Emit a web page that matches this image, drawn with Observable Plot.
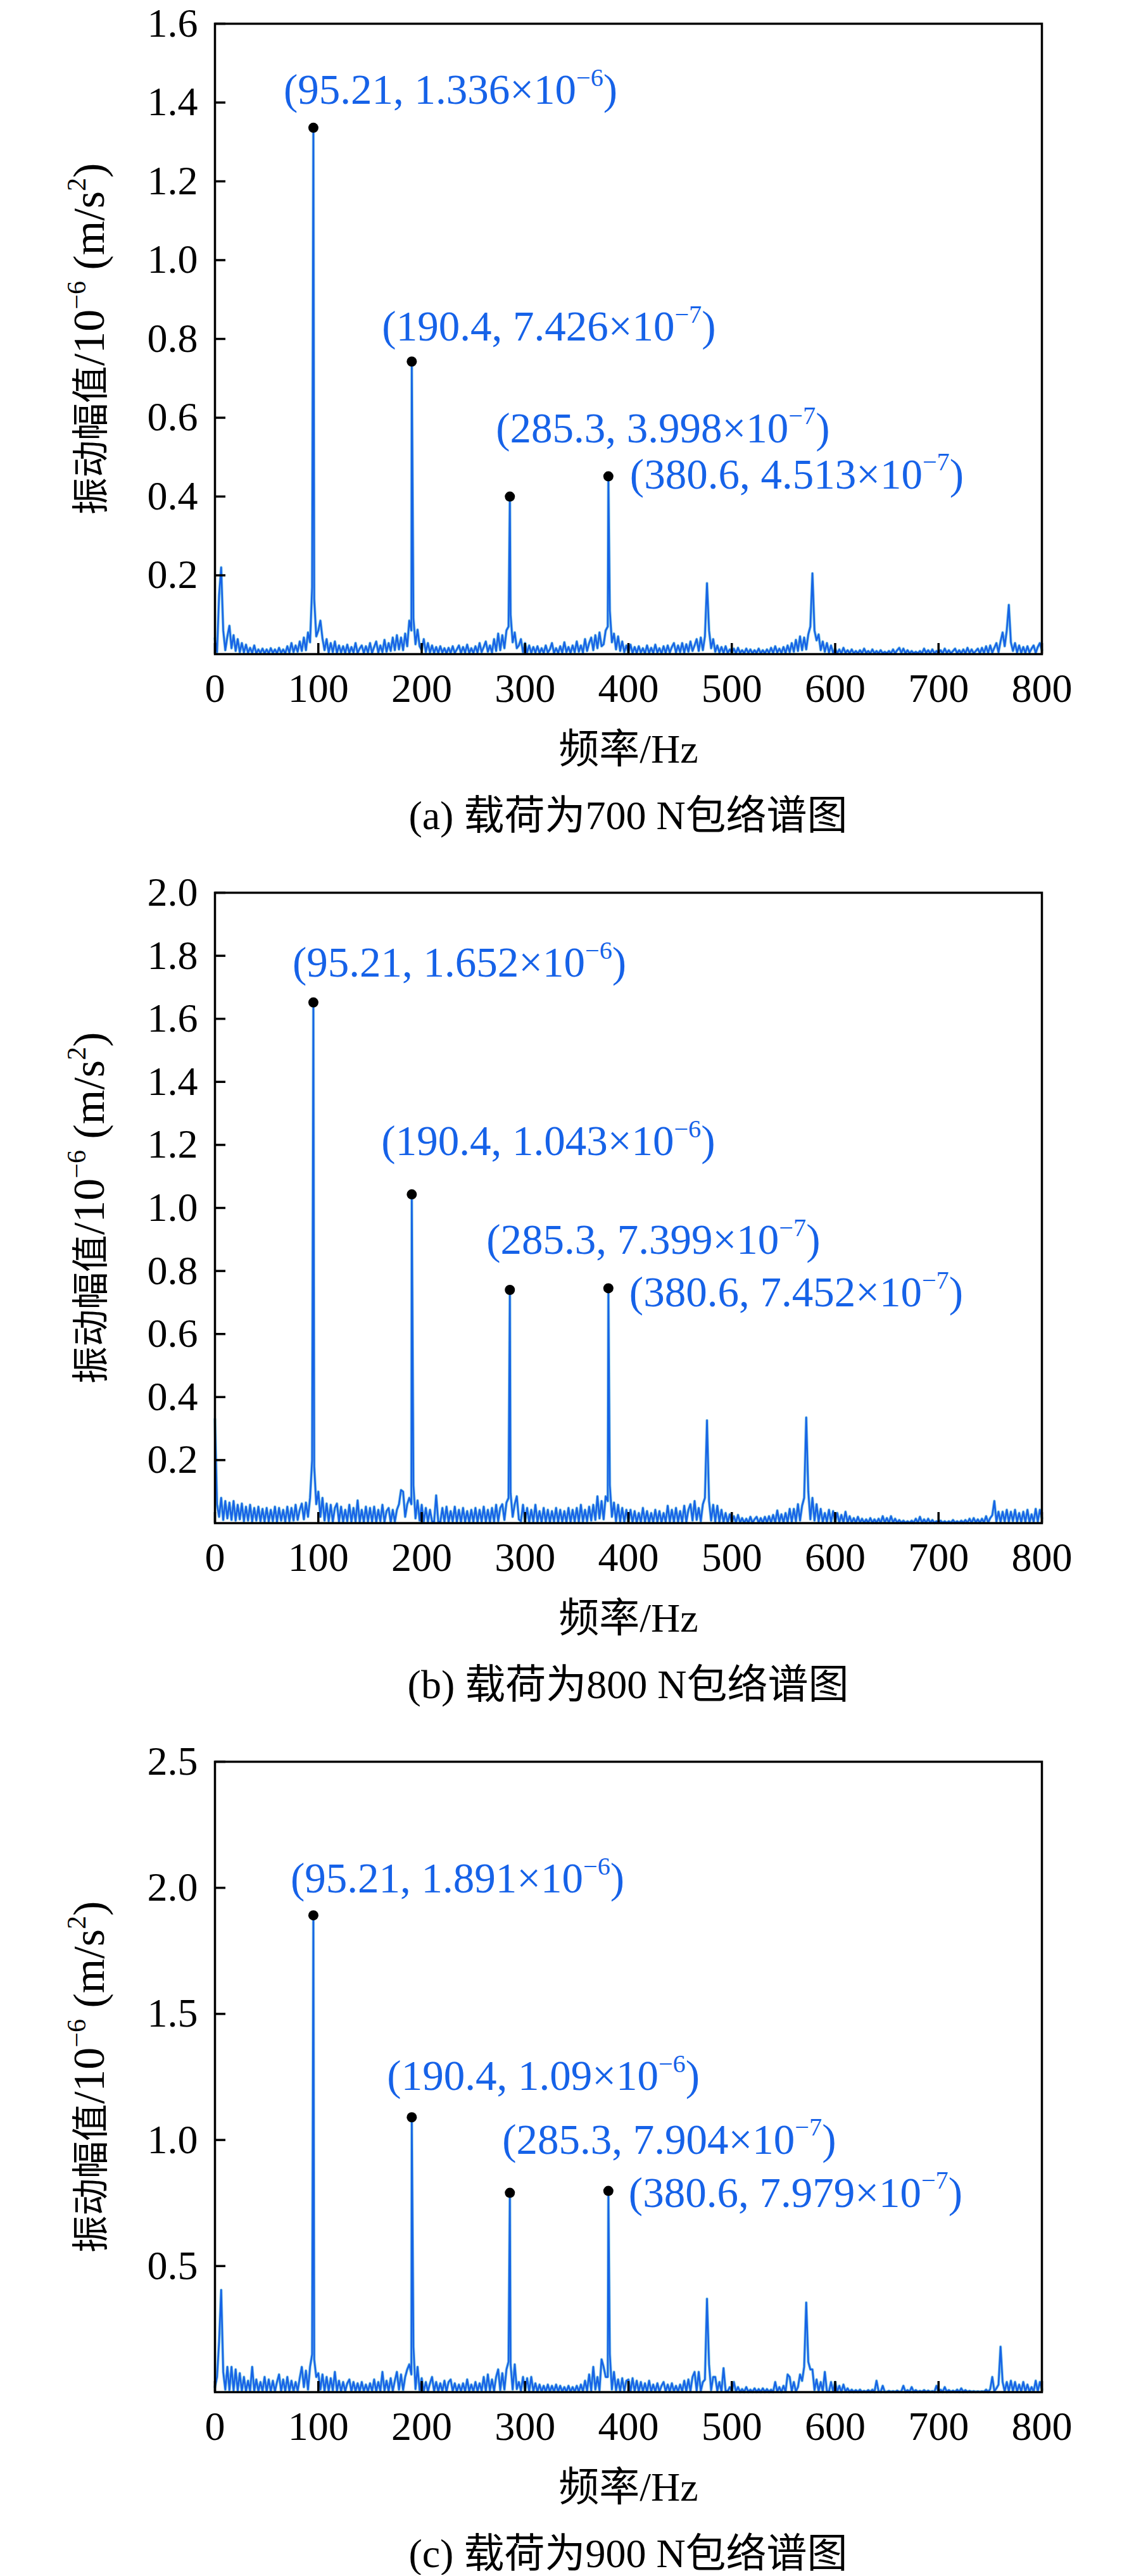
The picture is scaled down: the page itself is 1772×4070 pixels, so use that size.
<!DOCTYPE html>
<html><head><meta charset="utf-8">
<script src="https://cdn.jsdelivr.net/npm/d3@7"></script>
<script src="https://cdn.jsdelivr.net/npm/@observablehq/plot@0.6"></script>
<style>
body{margin:0;background:#fff;width:1772px;}
.block{width:1772px;height:1373px;}
.block:last-child{height:1322px;}
.cap{margin-left:339px;width:1306px;height:72px;line-height:78px;text-align:center;font-family:'Liberation Serif','Noto Sans CJK SC',serif;font-size:64px;color:#000;white-space:pre;}
svg{display:block;}
</style></head><body><div id="fig"></div><script>
// ---------------- data ----------------
const STEP = 2; // Hz between spectrum samples
const xTicks = [0, 100, 200, 300, 400, 500, 600, 700, 800];
const peakFreq = [95.21, 190.4, 285.3, 380.6];

// panel (a) 700 N — amplitudes in 1e-3 × 1e-6 m/s², sampled every 2 Hz from 0 to 800 Hz
const noiseA = [
40,5,150,220,60,10,45,72,15,48,8,38,5,28,4,24,3,16,3,22,2,12,3,14,2,
12,2,15,3,12,2,16,3,12,2,20,4,28,5,22,6,32,8,42,10,55,30,170,140,45,
60,85,40,10,38,4,28,5,32,3,22,4,20,3,24,3,18,4,28,3,14,22,3,20,4,
28,3,18,32,4,22,5,36,6,28,8,42,10,48,12,42,10,52,20,85,60,90,25,62,20,
10,38,5,28,4,22,3,18,3,20,4,15,2,16,3,20,3,12,22,3,18,4,24,3,15,
3,20,4,28,5,18,32,6,22,4,38,8,52,10,48,15,60,70,100,30,55,15,22,38,5,
28,4,22,3,18,4,20,3,15,3,22,4,12,28,3,15,3,20,4,30,5,18,3,22,5,
32,6,22,4,38,8,28,42,10,48,15,55,20,25,60,70,110,30,52,12,45,8,32,5,22,
4,24,3,18,3,20,4,15,2,22,3,16,3,24,4,15,2,20,3,22,4,18,28,4,22,
5,28,4,25,6,32,8,22,38,8,42,10,45,180,60,15,38,6,22,4,18,3,20,3,12,
3,14,2,16,3,10,2,14,3,12,2,10,3,14,2,10,2,12,3,16,3,20,4,14,3,
18,3,22,5,28,6,36,8,45,10,42,12,50,70,205,60,35,50,10,32,6,28,4,22,3,
14,2,12,2,16,3,10,2,12,2,8,2,10,2,14,3,8,2,12,2,8,2,10,2,6,
2,8,2,12,2,10,16,3,14,2,10,2,8,2,6,2,8,2,14,3,10,2,12,2,8,
2,10,2,14,3,10,2,8,14,2,10,2,12,2,16,3,12,2,8,14,2,16,3,20,3,
22,4,16,28,5,32,55,20,60,125,30,8,28,4,22,3,18,3,20,4,14,22,3,18,28,
10];
const peakAmpA = [1.336, 0.7426, 0.3998, 0.4513];
const labelsA = ["(95.21, 1.336×10|−6|)", "(190.4, 7.426×10|−7|)", "(285.3, 3.998×10|−7|)", "(380.6, 4.513×10|−7|)"];
const yTicksA = [0.2, 0.4, 0.6, 0.8, 1.0, 1.2, 1.4, 1.6];

// panel (b) 800 N
const noiseB = [
330,60,20,80,10,70,15,65,10,70,8,58,12,62,6,52,8,58,5,48,8,52,6,45,5,
48,5,42,6,52,4,48,8,42,5,52,6,48,8,58,10,42,62,12,65,20,80,200,180,60,
100,20,80,8,62,6,58,5,48,62,5,52,4,42,6,58,4,48,5,72,4,42,3,52,5,
48,4,52,3,42,6,58,4,38,48,3,42,5,42,60,105,100,20,60,80,60,120,15,72,8,
58,5,48,4,42,6,4,88,5,3,48,4,52,3,38,5,52,4,42,3,48,4,38,3,42,
4,48,3,42,5,52,4,42,3,48,5,58,6,48,60,10,65,80,95,20,60,85,12,6,58,
4,48,3,42,5,58,4,38,3,48,4,42,3,38,5,48,3,42,4,38,3,48,4,42,5,
48,4,58,5,42,6,52,8,58,10,85,15,70,12,85,70,120,20,65,6,58,5,48,4,42,
4,42,3,38,2,32,3,48,4,38,2,32,3,42,4,38,2,32,4,55,5,42,3,48,4,
38,3,55,4,42,60,8,70,10,48,6,60,80,326,70,8,58,5,55,4,42,3,32,2,28,
2,22,2,26,2,16,1,14,1,20,1,12,20,1,16,1,20,2,22,2,26,2,40,4,28,
2,32,3,45,4,45,6,60,8,55,80,335,100,12,80,8,60,5,45,3,32,4,42,3,38,
3,32,2,26,2,36,2,22,2,16,1,20,2,14,1,12,1,16,1,12,1,14,1,22,2,
16,1,22,2,14,1,10,1,8,1,6,1,8,1,14,1,20,1,12,1,14,1,10,1,6,
1,8,1,6,1,6,1,10,1,6,1,8,1,10,1,14,1,16,2,12,1,14,2,22,2,
16,25,70,5,36,4,36,5,42,4,36,6,42,4,32,3,36,4,42,3,28,4,45,5,42,
15];
const peakAmpB = [1.652, 1.043, 0.7399, 0.7452];
const labelsB = ["(95.21, 1.652×10|−6|)", "(190.4, 1.043×10|−6|)", "(285.3, 7.399×10|−7|)", "(380.6, 7.452×10|−7|)"];
const yTicksB = [0.2, 0.4, 0.6, 0.8, 1.0, 1.2, 1.4, 1.6, 1.8, 2.0];

// panel (c) 900 N
const noiseC = [
20,60,200,405,80,10,100,8,100,6,90,5,75,4,60,3,45,5,100,4,50,3,40,4,60,
3,50,4,45,3,40,70,4,50,3,60,4,45,3,40,5,55,100,20,85,10,100,150,130,60,
75,10,70,5,60,4,55,6,80,5,45,3,40,4,35,50,3,40,4,35,3,40,4,30,3,
35,4,50,3,40,5,80,6,45,4,55,5,45,80,10,70,8,60,90,110,70,180,12,100,8,
55,4,40,3,35,60,4,40,3,35,4,45,3,40,50,4,35,3,30,4,35,3,50,4,30,
3,40,4,35,5,60,4,70,6,50,5,60,90,8,75,10,90,120,110,10,110,12,40,5,60,
4,55,3,60,4,35,2,30,2,25,2,30,2,25,2,30,2,25,2,20,2,25,2,20,2,
25,2,30,3,45,5,70,6,100,10,60,7,130,100,60,60,150,10,80,7,50,4,55,5,45,
50,3,55,4,45,2,40,3,35,2,45,3,30,2,35,2,25,40,3,30,2,35,3,25,2,
30,3,45,4,50,5,60,80,6,80,5,40,50,370,110,8,60,60,5,40,3,95,6,3,20,
2,40,2,20,1,12,1,20,1,10,1,15,1,12,1,15,1,12,1,10,1,40,2,20,1,
25,2,70,60,4,40,3,20,70,45,100,355,120,90,90,8,50,4,40,3,80,4,2,40,3,
40,2,25,1,30,2,15,1,10,1,8,1,10,1,5,1,8,1,10,1,45,3,1,25,1,
1,5,1,4,1,6,1,3,25,1,8,1,20,1,8,1,5,1,8,1,6,1,4,1,25,
1,10,1,20,1,8,1,6,1,10,1,15,1,8,1,5,1,4,1,3,1,3,1,10,1,
12,60,4,15,30,180,40,3,40,4,45,3,40,2,30,3,40,2,30,2,20,2,45,3,40,
10];
const peakAmpC = [1.891, 1.09, 0.7904, 0.7979];
const labelsC = ["(95.21, 1.891×10|−6|)", "(190.4, 1.09×10|−6|)", "(285.3, 7.904×10|−7|)", "(380.6, 7.979×10|−7|)"];
const yTicksC = [0.5, 1.0, 1.5, 2.0, 2.5];

const xLabel = "频率/Hz";
const yLabel = "振动幅值/10|−6| (m/s|2|)";
const captions = ["(a) 载荷为700 N包络谱图", "(b) 载荷为800 N包络谱图", "(c) 载荷为900 N包络谱图"];

// ---------------- styles ----------------
const FONT = "'Liberation Serif','Noto Sans CJK SC',serif";
const BLUE_LINE = "#1763e6", CYAN_LINE = "#8fd0e6", BLUE_TEXT = "#1662e8";
// label offsets from the peak dot: [dx, dy of baseline] in px
const offsA = [[-47,-38],[-47,-33],[-22,-86],[34,19]];
const offsB = [[-33,-41],[-48,-62],[-37,-57],[33,29]];
const offsC = [[-36,-36],[-39,-43],[-12,-62],[32,25]];

function fontSizeOf(node) {
  let n = node;
  while (n && n.getAttribute) {
    const v = n.getAttribute("font-size");
    if (v) return parseFloat(v);
    n = n.parentNode;
  }
  return 64;
}

function richText(svg) {
  d3.select(svg).selectAll("text").each(function () {
    const s = this.textContent;
    if (!s.includes("|")) return;
    const fs = fontSizeOf(this);
    const cjkScale = /[\u4e00-\u9fff]/.test(s) ? 0.84 : 1;
    this.setAttributeNS("http://www.w3.org/XML/1998/namespace", "xml:space", "preserve");
    const el = d3.select(this);
    el.text(null);
    let raised = false;
    s.split("|").forEach((part, k) => {
      const sup = k % 2 === 1;
      const runs = part.match(/[\u4e00-\u9fff]+|[^\u4e00-\u9fff]+/g) || [];
      runs.forEach((r, j) => {
        const isC = /[\u4e00-\u9fff]/.test(r);
        const t = el.append("tspan").text(r)
          .attr("font-size", sup ? fs * 0.6 : isC ? fs * cjkScale : fs);
        if (j === 0) {
          if (sup && !raised) { t.attr("dy", -fs * 0.42); raised = true; }
          else if (!sup && raised) { t.attr("dy", fs * 0.42); raised = false; }
        }
      });
    });
  });
}

function makePanel(noise, amps, labels, yMax, yTicks, offs) {
  const spec = noise.map((v, i) => ({f: i * STEP, a: v / 1000}));
  const pk = peakFreq.map((f, i) => ({f, a: amps[i], label: labels[i]}));
  const line = spec.concat(pk.map(d => ({f: d.f, a: d.a}))).sort((p, q) => p.f - q.f);
  const textMarks = pk.map((d, i) => Plot.text([d], {
    x: "f", y: "a", text: "label", dx: offs[i][0], dy: offs[i][1],
    textAnchor: "start", lineAnchor: "bottom", fill: BLUE_TEXT, fontSize: 67
  }));
  const svg = Plot.plot({
    width: 1772, height: 1250,
    marginLeft: 339, marginRight: 127, marginTop: 37, marginBottom: 217,
    style: {fontFamily: FONT, background: "white", overflow: "visible", color: "black"},
    x: {domain: [0, 800]},
    y: {domain: [0, yMax]},
    marks: [
      Plot.line(line, {x: "f", y: "a", stroke: CYAN_LINE, strokeWidth: 4.5}),
      Plot.line(line, {x: "f", y: "a", stroke: BLUE_LINE, strokeWidth: 2.6}),
      Plot.dot(pk, {x: "f", y: "a", r: 8, fill: "black"}),
      ...textMarks,
      Plot.axisX({ticks: xTicks, tickSize: -17, tickPadding: 47, fontSize: 64, strokeWidth: 3.5, label: null}),
      Plot.axisY({ticks: yTicks, tickSize: -17, tickPadding: 44, fontSize: 64, strokeWidth: 3.5, tickFormat: d3.format(".1f"), label: null}),
      Plot.frame({stroke: "black", strokeWidth: 3.5}),
      Plot.text([0], {frameAnchor: "bottom", dy: 151, lineAnchor: "middle", textAnchor: "middle", text: () => xLabel, fontSize: 64}),
      Plot.text([0], {frameAnchor: "left", dx: -198, rotate: -90, lineAnchor: "middle", textAnchor: "middle", text: () => yLabel, fontSize: 70})
    ]
  });
  richText(svg);
  return svg;
}

const panels = [
  [noiseA, peakAmpA, labelsA, 1.6, yTicksA, offsA],
  [noiseB, peakAmpB, labelsB, 2.0, yTicksB, offsB],
  [noiseC, peakAmpC, labelsC, 2.5, yTicksC, offsC]
];
const fig = document.getElementById("fig");
panels.forEach((p, i) => {
  const block = document.createElement("div");
  block.className = "block";
  block.appendChild(makePanel(...p));
  const cap = document.createElement("div");
  cap.className = "cap";
  cap.textContent = captions[i];
  block.appendChild(cap);
  fig.appendChild(block);
});
</script></body></html>
